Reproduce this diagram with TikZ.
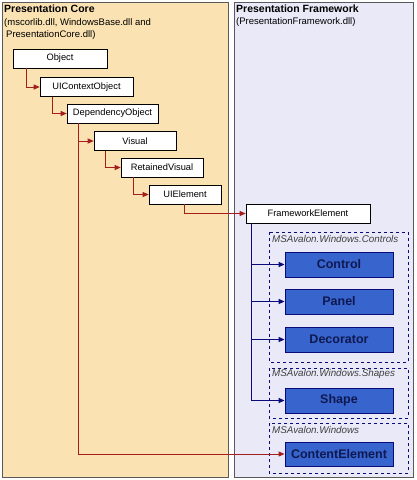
\documentclass[tikz,border=0pt]{standalone}
\usepackage{fontspec}
\setmainfont{Liberation Sans}
\usetikzlibrary{arrows.meta}
\definecolor{corefill}{RGB}{250,226,178}
\definecolor{fwfill}{RGB}{233,233,248}
\definecolor{redline}{RGB}{165,30,30}
\definecolor{navyline}{RGB}{10,10,120}
\definecolor{bluebox}{RGB}{55,100,205}
\definecolor{boxtext}{RGB}{15,25,80}
\definecolor{panelborder}{RGB}{90,90,90}
\tikzset{
  panel/.style={draw=panelborder, line width=0.9pt},
  wbox/.style={draw=black, fill=white, line width=0.6pt, inner sep=0pt, minimum height=19pt, font=\fontsize{9.3}{10}\selectfont},
  bbox/.style={draw=navyline, fill=bluebox, line width=0.8pt, inner sep=0pt, minimum width=108pt, minimum height=25pt, text=boxtext, font=\fontsize{12.5}{14}\bfseries},
  nsbox/.style={draw=navyline, dashed, line width=0.7pt},
  nslabel/.style={anchor=west, inner sep=0pt, font=\fontsize{9.8}{11}\selectfont\itshape, text=black!75},
  title/.style={anchor=west, inner sep=0pt, font=\fontsize{10.5}{12}\selectfont\bfseries},
  sub/.style={anchor=west, inner sep=0pt, font=\fontsize{9.5}{11}\selectfont},
  redarrow/.style={draw=redline, line width=0.9pt, -{Triangle[length=6pt,width=5pt]}},
  bluearrow/.style={draw=navyline, line width=1.4pt, -{Triangle[length=6pt,width=5pt]}}
}
\begin{document}
\begin{tikzpicture}[x=1pt, y=-1pt]
\useasboundingbox (0,0) rectangle (416,480);
\fill[white] (0,0) rectangle (416,480);
% panels
\draw[panel, fill=corefill] (2,2) rectangle (228,477);
\draw[panel, fill=fwfill] (234,2) rectangle (413,477);
% panel titles
\node[title] (coretitle) at (4,9) {Presentation Core};
\node[sub] (coresub1) at (4,23) {(mscorlib.dll, WindowsBase.dll and};
\node[sub] (coresub2) at (6,35) {PresentationCore.dll)};
\node[title] (fwtitle) at (236,9) {Presentation Framework};
\node[sub] (fwsub) at (236,22) {(PresentationFramework.dll)};
% namespace boxes
\draw[nsbox] (269,232) rectangle (408,362);
\draw[nsbox] (269,368) rectangle (408,418);
\draw[nsbox] (269,423) rectangle (408,473);
\node[nslabel] (ns1) at (272,239) {MSAvalon.Windows.Controls};
\node[nslabel] (ns2) at (272,374) {MSAvalon.Windows.Shapes};
\node[nslabel] (ns3) at (272,430) {MSAvalon.Windows};
% white class boxes
\node[wbox, minimum width=94pt] (obj) at (60,58.5) {Object};
\node[wbox, minimum width=93pt] (uic) at (86.5,87) {UIContextObject};
\node[wbox, minimum width=91pt] (dep) at (112.5,113.5) {DependencyObject};
\node[wbox, minimum width=82pt] (vis) at (135,141) {Visual};
\node[wbox, minimum width=82pt] (ret) at (162,167.5) {RetainedVisual};
\node[wbox, minimum width=72pt] (uie) at (185,194.5) {UIElement};
\node[wbox, minimum width=124pt] (fwe) at (308,213.5) {FrameworkElement};
% blue boxes
\node[bbox] (ctrl) at (339,264.5) {Control};
\node[bbox] (pnl) at (339,301.5) {Panel};
\node[bbox] (deco) at (339,339.5) {Decorator};
\node[bbox] (shp) at (339,400.5) {Shape};
\node[bbox, minimum height=24pt] (cel) at (339,454) {ContentElement};
% red connectors
\draw[redarrow] ([xshift=14pt]obj.south west) |- (uic.west);
\draw[redarrow] ([xshift=13pt]uic.south west) |- (dep.west);
\draw[redarrow] ([xshift=12pt]dep.south west) |- (vis.west);
\draw[redarrow] ([xshift=12pt]dep.south west) |- (cel.west);
\draw[redarrow] ([xshift=12pt]vis.south west) |- (ret.west);
\draw[redarrow] ([xshift=13pt]ret.south west) |- (uie.west);
\draw[redarrow] ([xshift=36pt]uie.south west) |- (fwe.west);
% blue connectors
\draw[bluearrow] ([xshift=6pt]fwe.south west) |- (ctrl.west);
\draw[bluearrow] ([xshift=6pt]fwe.south west) |- (pnl.west);
\draw[bluearrow] ([xshift=6pt]fwe.south west) |- (deco.west);
\draw[bluearrow] ([xshift=6pt]fwe.south west) |- (shp.west);
\end{tikzpicture}
\end{document}
